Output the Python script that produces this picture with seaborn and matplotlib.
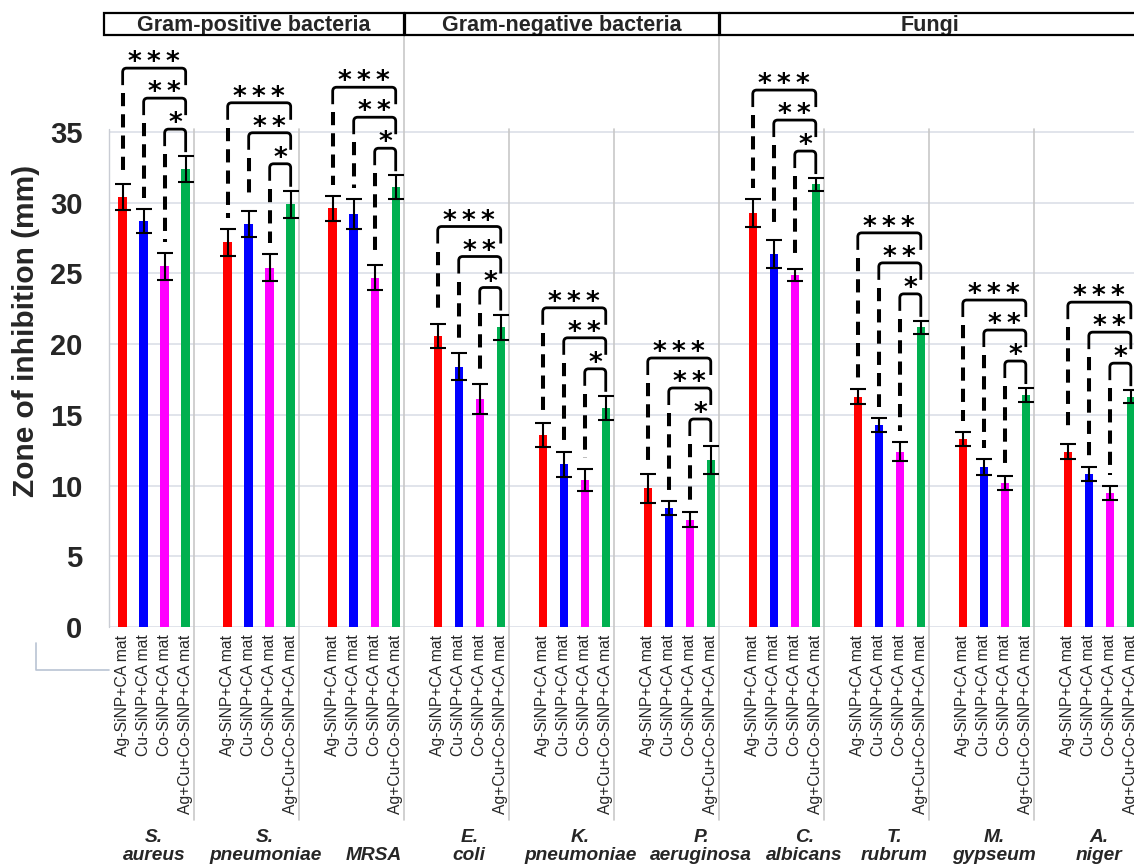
import numpy as np
import pandas as pd
import matplotlib
matplotlib.use("Agg")
import matplotlib.pyplot as plt
import matplotlib.transforms as mtrans
from matplotlib.path import Path
from matplotlib.patches import PathPatch, Rectangle
import seaborn as sns

# ---------------- data ----------------
species_line1 = ["S.", "S.", "", "E.", "K.", "P.", "C.", "T.", "M.", "A."]
species_line2 = ["aureus", "pneumoniae", "MRSA", "coli", "pneumoniae",
                 "aeruginosa", "albicans", "rubrum", "gypseum", "niger"]
species = ["S. aureus", "S. pneumoniae", "MRSA", "E. coli", "K. pneumoniae",
           "P. aeruginosa", "C. albicans", "T. rubrum", "M. gypseum", "A. niger"]
materials = ["Ag-SiNP+CA mat", "Cu-SiNP+CA mat", "Co-SiNP+CA mat",
             "Ag+Cu+Co-SiNP+CA mat"]
group_names = ["Gram-positive bacteria", "Gram-negative bacteria", "Fungi"]
group_sizes = [3, 3, 4]

ag_vals = [30.4, 27.2, 29.6, 20.6, 13.6, 9.8, 29.3, 16.3, 13.3, 12.4]
cu_vals = [28.7, 28.5, 29.2, 18.4, 11.5, 8.4, 26.4, 14.3, 11.3, 10.8]
co_vals = [25.5, 25.4, 24.7, 16.1, 10.4, 7.6, 24.9, 12.4, 10.2, 9.5]
mix_vals = [32.4, 29.9, 31.1, 21.2, 15.5, 11.8, 31.3, 21.2, 16.4, 16.3]

ag_err = [0.9, 0.95, 0.9, 0.85, 0.85, 1.0, 1.0, 0.5, 0.5, 0.55]
cu_err = [0.85, 0.95, 1.05, 0.95, 0.9, 0.5, 1.0, 0.5, 0.55, 0.5]
co_err = [0.95, 0.95, 0.9, 1.05, 0.75, 0.5, 0.4, 0.65, 0.5, 0.5]
mix_err = [0.9, 0.95, 0.85, 0.9, 0.85, 1.0, 0.45, 0.45, 0.5, 0.45]

stars = ["*\u2009*\u2009*", "*\u2009*", "*"]
yticks = [0, 5, 10, 15, 20, 25, 30, 35]

# ---------------- style / layout ----------------
colors = ["#ff0000", "#0000ff", "#ff00ff", "#00b050"]
W_PX, H_PX = 1134, 864
AX_L, AX_R, AX_T, AX_B = 109, 1134, 35, 627
XMIN, XMAX = -0.43, 9.33
YMAX = (AX_B - AX_T) / 14.14
pxx = (AX_R - AX_L) / (XMAX - XMIN)   # px per x unit
pxy = (AX_B - AX_T) / YMAX            # px per y unit
label_nudge_px = [0, 6, 10, 0, 6, 22, 20, 5, 0, 0]

sns.set_theme(style="white")
plt.rcParams['font.family'] = ['Liberation Sans', 'DejaVu Sans']
plt.rcParams['lines.scale_dashes'] = False

fig = plt.figure(figsize=(W_PX / 100, H_PX / 100), dpi=100)
ax = fig.add_axes([AX_L / W_PX, 1 - AX_B / H_PX,
                   (AX_R - AX_L) / W_PX, (AX_B - AX_T) / H_PX])

vals = [ag_vals, cu_vals, co_vals, mix_vals]
errs = [ag_err, cu_err, co_err, mix_err]
rows = []
for j, m in enumerate(materials):
    for i, s in enumerate(species):
        rows.append({"species": s, "material": m, "zone": vals[j][i]})
df = pd.DataFrame(rows)

# gridlines
for t in yticks:
    ax.plot([XMIN, XMAX], [t, t], color="#d8dce6", lw=1.1, zorder=0)
ax.plot([XMIN, XMIN], [0, 35.2], color="#c9ccd4", lw=1.0, zorder=0,
        clip_on=False)

sns.barplot(data=df, x="species", y="zone", hue="material", order=species,
            hue_order=materials, palette=colors, width=0.8, gap=0.6,
            errorbar=None, legend=False, saturation=1, linewidth=0, ax=ax,
            zorder=2)

def xpos(i, j):
    return i + (j - 1.5) * 0.2

for j in range(4):
    xs = [xpos(i, j) for i in range(len(species))]
    ax.errorbar(xs, vals[j], yerr=errs[j], fmt="none", ecolor="black",
                elinewidth=1.5, capsize=5.5, capthick=1.5, zorder=3)

# significance brackets
offs_px = [88, 58, 27]
rx = 4 / pxx
ry = 4 / pxy
for i in range(len(species)):
    gtop = vals[3][i] + errs[3][i]
    for k in range(3):
        top = gtop + offs_px[k] / pxy
        xl, xr = xpos(i, k), xpos(i, 3)
        ltop = vals[k][i] + errs[k][i]
        if k < 2:
            yr_end = top - 17 / pxy
        else:
            yr_end = gtop + 4 / pxy
        yl_end = top - 17 / pxy
        verts = [(xl, yl_end), (xl, top - ry), (xl, top), (xl + rx, top),
                 (xr - rx, top), (xr, top), (xr, top - ry), (xr, yr_end)]
        codes = [Path.MOVETO, Path.LINETO, Path.CURVE3, Path.CURVE3,
                 Path.LINETO, Path.CURVE3, Path.CURVE3, Path.LINETO]
        ax.add_patch(PathPatch(Path(verts, codes), fill=False, lw=2.0,
                               edgecolor="black", capstyle="butt",
                               joinstyle="round", zorder=4, clip_on=False))
        d0 = yl_end - 8 / pxy
        d1 = ltop + 11 / pxy
        if d0 > d1:
            ax.plot([xl, xl], [d0, d1], color="black", lw=2.9,
                    linestyle=(0, (9.5, 5.8)), solid_capstyle="butt",
                    dash_capstyle="butt", zorder=4, clip_on=False)
        ax.text((xl + xr) / 2, top - 2 / pxy, stars[k], ha="center",
                va="baseline", fontsize=19, color="black", zorder=5,
                family=["DejaVu Sans"], fontweight="bold", clip_on=False)

# separators
for i in range(len(species) - 1):
    x = i + 0.38
    ytop = YMAX if i in (2, 5) else 35.25
    ax.plot([x, x], [ytop, -(820 - AX_B) / pxy], color="#c8c8c8", lw=1.2,
            zorder=0, clip_on=False)

# L-shaped artifact bottom-left
xa = XMIN - (AX_L - 36) / pxx
ax.plot([xa, xa, XMIN], [-(643 - AX_B) / pxy, -(670 - AX_B) / pxy,
                         -(670 - AX_B) / pxy],
        color="#b9c3d3", lw=1.2, clip_on=False, zorder=0)

# header boxes
hb0, hb1 = YMAX, YMAX + (AX_T - 13) / pxy
edges = [-0.478]
cum = 0
for n in group_sizes:
    cum += n
    edges.append(cum - 1 + 0.38)
edges[-1] = XMAX + 0.1
for g, name in enumerate(group_names):
    x0 = edges[g] + (0.01 if g > 0 else 0)
    x1 = edges[g + 1] - 0.005
    ax.add_patch(Rectangle((x0, hb0), x1 - x0, hb1 - hb0, fill=False,
                           edgecolor="black", lw=1.6, clip_on=False,
                           zorder=5))
    xc = (x0 + x1) / 2 if g < 2 else XMIN + (930 - AX_L) / pxx
    ax.text(xc, YMAX + (AX_T - 31) / pxy, name, ha="center", va="baseline",
            fontsize=15.5, fontweight="bold", clip_on=False)

# axes styling
ax.set_xlim(XMIN, XMAX)
ax.set_ylim(0, YMAX)
for sp in ax.spines.values():
    sp.set_visible(False)
xt = [xpos(i, j) for i in range(len(species)) for j in range(4)]
ax.set_xticks(xt)
ax.set_xticklabels(materials * len(species), rotation=90, fontsize=11.3,
                   va="top", ha="center")
ax.tick_params(axis="x", length=0, pad=5.5)
ax.set_yticks(yticks)
ax.set_yticklabels([str(t) for t in yticks], fontsize=21, fontweight="bold")
ax.tick_params(axis="y", length=0, pad=19)
ax.set_xlabel("")
ax.set_ylabel("")

fig.text(26 / W_PX, 1 - ((AX_T + AX_B) / 2) / H_PX,
         "Zone of inhibition (mm)", rotation=90, ha="center", va="center",
         fontsize=21.5, fontweight="bold")

# species labels
tr = mtrans.blended_transform_factory(ax.transData, ax.transAxes)
for i in range(len(species)):
    x = i + label_nudge_px[i] / pxx
    if species_line1[i]:
        ax.text(x, (AX_B - 842) / (AX_B - AX_T), species_line1[i],
                transform=tr, ha="center", va="baseline", fontsize=13.8,
                fontweight="bold", fontstyle="italic", clip_on=False)
    ax.text(x, (AX_B - 860) / (AX_B - AX_T), species_line2[i],
            transform=tr, ha="center", va="baseline", fontsize=13.8,
            fontweight="bold", fontstyle="italic", clip_on=False)

fig.savefig("out.png", dpi=100)
